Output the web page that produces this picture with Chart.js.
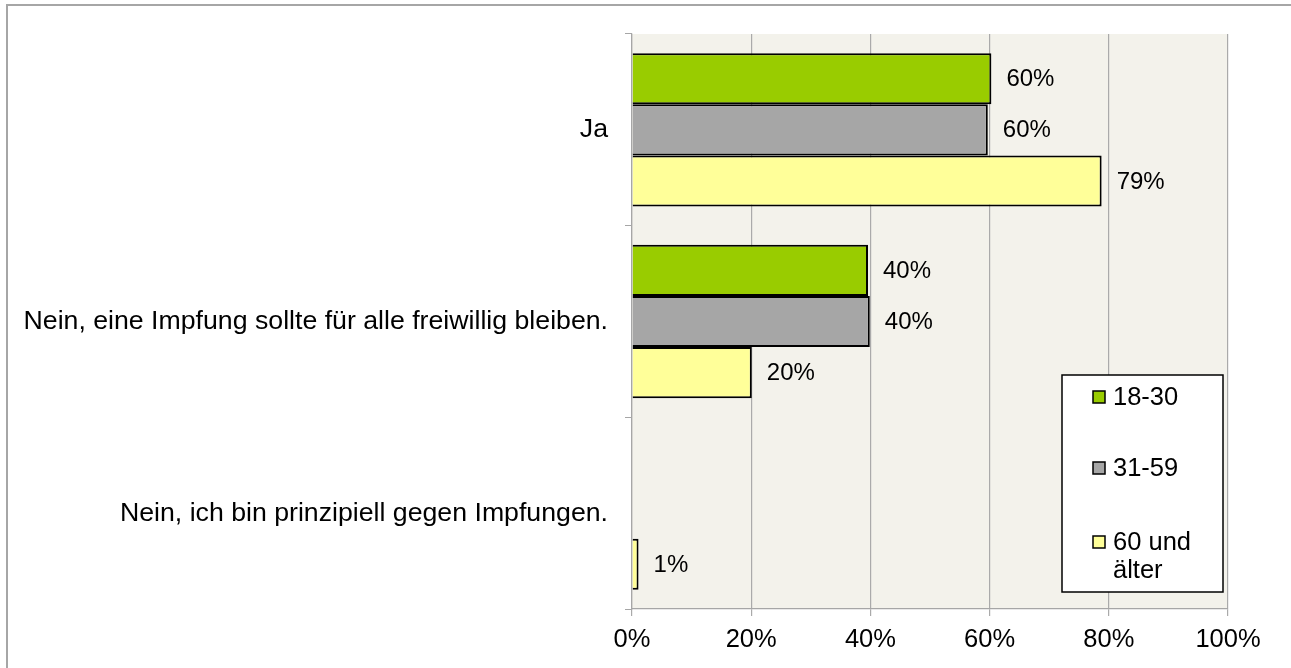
<!DOCTYPE html>
<html>
<head>
<meta charset="utf-8">
<script src="https://cdn.jsdelivr.net/npm/chart.js@4/dist/chart.umd.min.js"></script>
<style>
  body { margin: 0; background: #fff; overflow: hidden; }
  #rahmen { position: absolute; left: 6px; top: 4px; width: 1400px; height: 800px;
            border-top: 2px solid #a6a6a6; border-left: 2px solid #a6a6a6; }
  #grafik { position: absolute; left: 0; top: 0; }
</style>
</head>
<body>
<div id="rahmen"></div>
<canvas id="grafik" width="1291" height="668"></canvas>
<script>
const kategorien = [
  'Ja',
  'Nein, eine Impfung sollte für alle freiwillig bleiben.',
  'Nein, ich bin prinzipiell gegen Impfungen.'
];
const altersgruppen = ['18-30', '31-59', '60 und älter'];
const werte1830 = [60.3, 39.6, null];
const werte3159 = [59.7, 39.9, null];
const werte60 = [78.8, 20.1, 1.1];
const achsenTicks = [0, 20, 40, 60, 80, 100];

const farben = ['#99cc00', '#a6a6a6', '#ffff99'];
const schrift = "'Liberation Sans', Arial, sans-serif";

// Hintergrund der Zeichenfläche
const hintergrund = {
  id: 'hintergrund',
  beforeDraw(chart) {
    const a = chart.chartArea;
    const ctx = chart.ctx;
    ctx.save();
    ctx.fillStyle = '#f3f2eb';
    ctx.fillRect(a.left, a.top, a.right - a.left, a.bottom - a.top);
    ctx.restore();
  }
};

// Prozentwerte rechts neben den Balken
const beschriftung = {
  id: 'beschriftung',
  afterDatasetsDraw(chart) {
    const ctx = chart.ctx;
    ctx.save();
    ctx.font = '24px ' + schrift;
    ctx.fillStyle = '#000';
    ctx.textAlign = 'left';
    ctx.textBaseline = 'middle';
    chart.data.datasets.forEach((ds, i) => {
      const meta = chart.getDatasetMeta(i);
      meta.data.forEach((bar, j) => {
        const v = ds.data[j];
        if (v === null || v === undefined) return;
        ctx.fillText(Math.round(v) + '%', bar.x + 15, bar.y + 1);
      });
    });
    ctx.restore();
  }
};

// Legende im Diagramm unten rechts
const legende = {
  id: 'legende',
  afterDraw(chart) {
    const a = chart.chartArea;
    const ctx = chart.ctx;
    const breite = 161, hoehe = 217;
    const x0 = a.right - 5 - breite;
    const y0 = a.bottom - 17 - hoehe;
    ctx.save();
    ctx.fillStyle = '#fff';
    ctx.fillRect(x0, y0, breite, hoehe);
    ctx.strokeStyle = '#000';
    ctx.lineWidth = 1.5;
    ctx.strokeRect(x0, y0, breite, hoehe);

    ctx.font = '25.5px ' + schrift;
    ctx.textAlign = 'left';
    ctx.textBaseline = 'middle';
    const zeilenY = [22, 93, 167];
    const textX = x0 + 51;
    const maxBreite = breite - 56;
    chart.data.datasets.forEach((ds, i) => {
      const y = y0 + zeilenY[i];
      ctx.fillStyle = ds.backgroundColor;
      ctx.fillRect(x0 + 31, y - 6, 12, 12);
      ctx.strokeStyle = '#000';
      ctx.lineWidth = 1.5;
      ctx.strokeRect(x0 + 31, y - 6, 12, 12);

      // Zeilenumbruch bei zu langem Text
      const woerter = ds.label.split(' ');
      const zeilen = [];
      let aktuell = '';
      woerter.forEach(w => {
        const test = aktuell ? aktuell + ' ' + w : w;
        if (ctx.measureText(test).width > maxBreite && aktuell) {
          zeilen.push(aktuell);
          aktuell = w;
        } else {
          aktuell = test;
        }
      });
      zeilen.push(aktuell);
      ctx.fillStyle = '#000';
      zeilen.forEach((z, k) => ctx.fillText(z, textX, y + 1 + k * 28));
    });
    ctx.restore();
  }
};

const datensaetze = [werte1830, werte3159, werte60].map((werte, i) => ({
  label: altersgruppen[i],
  data: werte,
  backgroundColor: farben[i],
  borderColor: '#000',
  borderWidth: 2,
  categoryPercentage: 0.8,
  barPercentage: 1.0
}));

new Chart(document.getElementById('grafik'), {
  type: 'bar',
  data: { labels: kategorien, datasets: datensaetze },
  options: {
    indexAxis: 'y',
    responsive: false,
    animation: false,
    devicePixelRatio: 1,
    layout: { padding: { top: 34, right: 63, left: 0, bottom: 0 } },
    plugins: { legend: { display: false }, tooltip: { enabled: false } },
    scales: {
      x: {
        min: achsenTicks[0],
        max: achsenTicks[achsenTicks.length - 1],
        afterBuildTicks: s => { s.ticks = achsenTicks.map(v => ({ value: v })); },
        ticks: {
          callback: v => v + '%',
          font: { family: schrift, size: 25.5 },
          color: '#000',
          padding: 9,
          maxRotation: 0
        },
        grid: { color: '#aaaaaa', lineWidth: 1.2, tickLength: 7 },
        border: { color: '#a6a6a6', width: 1.2 },
        afterFit: s => { s.height = 59; }
      },
      y: {
        ticks: {
          font: { family: schrift, size: 26.7 },
          color: '#000',
          padding: 17
        },
        grid: { drawOnChartArea: false, offset: true, tickLength: 7, color: '#a6a6a6' },
        border: { color: '#a6a6a6', width: 1.2 },
        afterFit: s => { s.width = 632; }
      }
    }
  },
  plugins: [hintergrund, beschriftung, legende]
});
</script>
</body>
</html>
